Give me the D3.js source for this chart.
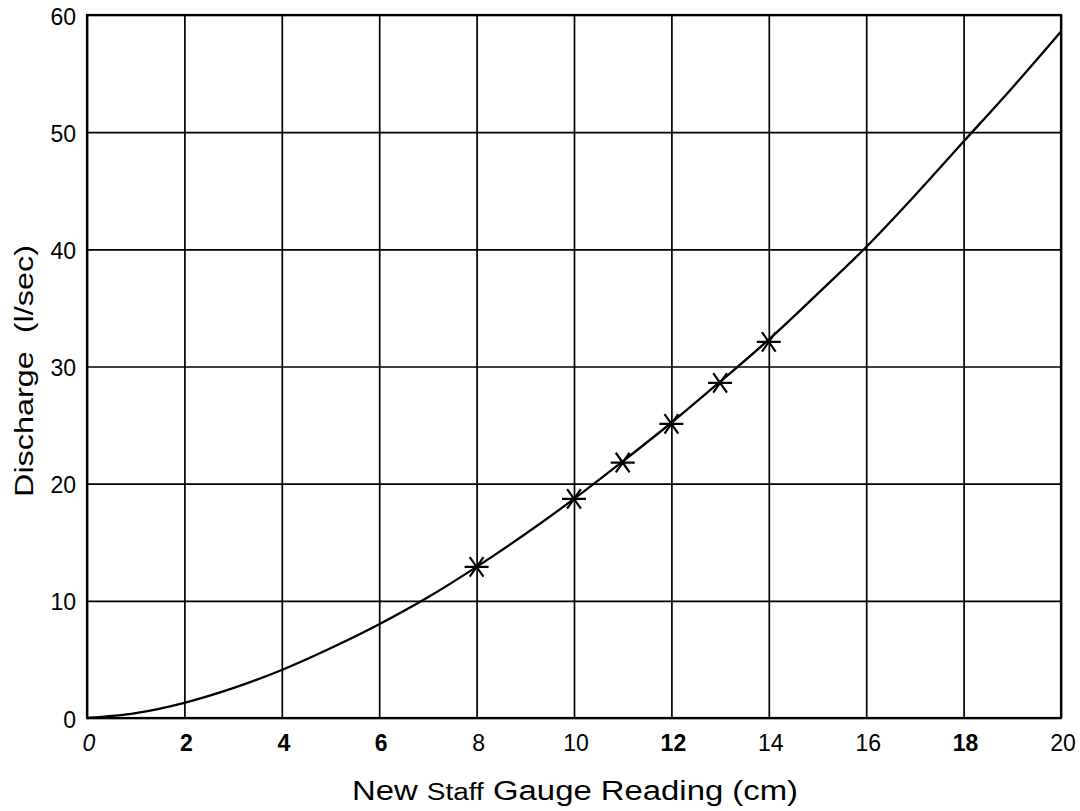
<!DOCTYPE html>
<html>
<head>
<meta charset="utf-8">
<script src="https://cdn.jsdelivr.net/npm/d3@7"></script>
<style>
  html, body { margin: 0; padding: 0; background: #fff; }
  svg { display: block; font-family: "Liberation Sans", Arial, Helvetica, sans-serif; }
</style>
</head>
<body>
<svg id="chart" width="1080" height="811"></svg>
<script>
// ---- data ----
const xTicks = [0, 2, 4, 6, 8, 10, 12, 14, 16, 18, 20];
const xTickLabels = ["0", "2", "4", "6", "8", "10", "12", "14", "16", "18", "20"];
const xTickStyles = ["italic", "bold", "bold", "bold", "normal", "normal", "bold", "normal", "normal", "bold", "normal"];
const yTicks = [0, 10, 20, 30, 40, 50, 60];
const yTickLabels = ["0", "10", "20", "30", "40", "50", "60"];

// rating curve (gauge reading cm -> discharge l/sec)
const curveGauge = [0, 1, 2, 3, 4, 5, 6, 7, 8, 9, 10, 11, 12, 13, 14, 15, 16, 17, 18, 19, 20];
const curveDischarge = [0, 0.42, 1.3, 2.55, 4.1, 5.95, 8.0, 10.3, 12.9, 15.7, 18.7, 21.9, 25.2, 28.7, 32.3, 36.2, 40.2, 44.6, 49.2, 53.8, 58.6];

// measured points (asterisks)
const obsGauge = [8, 10, 11, 12, 13, 14];
const obsDischarge = [12.9, 18.7, 21.8, 25.1, 28.6, 32.1];

const xTitle = ["New ", "Staff", " Gauge Reading (cm)"];
const yTitle = "Discharge  (l/sec)";

(function () {
  // ---- layout ----
  const svg = d3.select("#chart");
  const pl = 87, pr = 1061, pt = 15, pb = 718;

  const x = d3.scaleLinear().domain([0, 20]).range([pl, pr]);
  const y = d3.scaleLinear().domain([0, 60]).range([pb, pt]);

  // grid via axes
  const gx = svg.append("g")
    .attr("transform", `translate(0,${pb})`)
    .call(d3.axisBottom(x).tickValues(xTicks).tickSize(-(pb - pt)).tickFormat(""));
  const gy = svg.append("g")
    .attr("transform", `translate(${pl},0)`)
    .call(d3.axisLeft(y).tickValues(yTicks).tickSize(-(pr - pl)).tickFormat(""));
  [gx, gy].forEach(g => {
    g.select(".domain").remove();
    g.selectAll(".tick line").attr("stroke", "#000").attr("stroke-width", 1.7);
  });

  // frame
  svg.append("rect")
    .attr("x", pl).attr("y", pt)
    .attr("width", pr - pl).attr("height", pb - pt)
    .attr("fill", "none").attr("stroke", "#000").attr("stroke-width", 2.2);

  // x tick labels
  svg.append("g").selectAll("text")
    .data(xTicks)
    .join("text")
    .attr("x", d => x(d) + 2)
    .attr("y", 751)
    .attr("text-anchor", "middle")
    .attr("font-size", 23)
    .attr("font-style", (d, i) => xTickStyles[i] === "italic" ? "italic" : "normal")
    .attr("font-weight", (d, i) => xTickStyles[i] === "bold" ? "bold" : "normal")
    .attr("fill", "#000")
    .text((d, i) => xTickLabels[i]);

  // y tick labels
  svg.append("g").selectAll("text")
    .data(yTicks)
    .join("text")
    .attr("x", 76)
    .attr("y", d => y(d))
    .attr("dy", "0.42em")
    .attr("text-anchor", "end")
    .attr("font-size", 23)
    .attr("fill", "#000")
    .text((d, i) => yTickLabels[i]);

  // curve
  const curveData = curveGauge.map((g, i) => [g, curveDischarge[i]]);
  svg.append("path")
    .datum(curveData)
    .attr("fill", "none")
    .attr("stroke", "#000")
    .attr("stroke-width", 2.3)
    .attr("d", d3.line().x(d => x(d[0])).y(d => y(d[1])).curve(d3.curveMonotoneX));

  // asterisk markers
  const obsData = obsGauge.map((g, i) => [g, obsDischarge[i]]);
  const r = 12;
  const a = 55 * Math.PI / 180;
  const sdx = r * Math.cos(a), sdy = r * Math.sin(a);
  const star = `M${-r},0L${r},0M${-sdx},${-sdy}L${sdx},${sdy}M${-sdx},${sdy}L${sdx},${-sdy}`;
  svg.append("g").selectAll("path")
    .data(obsData)
    .join("path")
    .attr("transform", d => `translate(${x(d[0])},${y(d[1])})`)
    .attr("d", star)
    .attr("fill", "none")
    .attr("stroke", "#000")
    .attr("stroke-width", 2.2);

  // x axis title
  const xt = svg.append("text")
    .attr("x", 575)
    .attr("y", 800)
    .attr("text-anchor", "middle")
    .attr("font-size", 27)
    .attr("fill", "#000")
    .attr("textLength", 446)
    .attr("lengthAdjust", "spacingAndGlyphs")
    .style("white-space", "pre");
  xt.selectAll("tspan")
    .data(xTitle)
    .join("tspan")
    .attr("font-size", (d, i) => i === 1 ? 23 : 27)
    .text(d => d);

  // y axis title
  svg.append("text")
    .attr("transform", "translate(33,371) rotate(-90)")
    .attr("text-anchor", "middle")
    .attr("font-size", 25)
    .attr("fill", "#000")
    .attr("textLength", 252)
    .attr("lengthAdjust", "spacingAndGlyphs")
    .style("white-space", "pre")
    .text(yTitle);
})();
</script>
</body>
</html>
